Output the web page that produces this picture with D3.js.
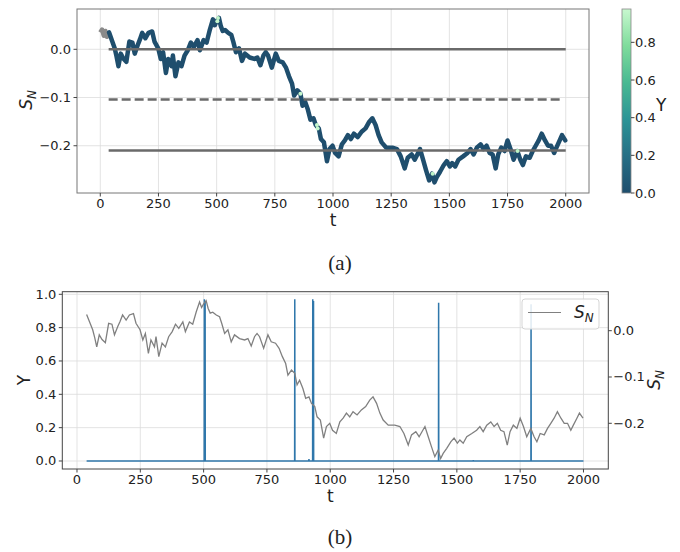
<!DOCTYPE html>
<html>
<head>
<meta charset="utf-8">
<title>S_N and Y</title>
<style>
  body { margin: 0; background: #fff; }
  svg text { font-family: "DejaVu Sans", sans-serif; fill: #222; }
  .cap { font-family: "Liberation Serif", "DejaVu Serif", serif; }
</style>
</head>
<body>
<svg id="chart" width="680" height="552"></svg>
<script src="https://cdn.jsdelivr.net/npm/d3@7"></script>
<script>
// S_N random walk: [t, S_N]
var walkStart = [[0, 0.035], [8, 0.041], [15, 0.028], [22, 0.038], [29, 0.026], [38, 0.035]]; // Y undefined here
var walk = [
  [38, 0.035], [49, 0.020], [62, 0.002], [70, -0.015], [78, -0.035], [88, -0.009], [99, -0.019],
  [112, -0.026], [125, 0.016], [138, 0.014], [148, -0.009], [161, 0.009], [170, 0.020], [180, 0.034],
  [194, 0.023], [207, 0.034], [223, 0.037], [233, 0.016], [249, 0.002], [260, -0.020], [270, -0.006],
  [282, -0.049], [292, -0.020], [306, -0.035], [312, -0.013], [323, -0.056], [336, -0.027], [349, -0.035],
  [362, -0.013], [376, -0.002], [389, 0.014], [402, 0.005], [418, 0.019], [428, -0.002], [444, 0.019],
  [457, 0.014], [471, 0.041], [484, 0.062], [492, 0.050], [500, 0.058], [510, 0.065], [518, 0.048],
  [526, 0.038], [536, 0.040], [550, 0.034], [563, 0.030], [572, 0.015], [583, -0.006], [596, 0.002],
  [609, -0.024], [622, -0.009], [642, -0.017], [662, -0.020], [675, -0.017], [688, -0.033], [701, -0.013],
  [711, -0.006], [721, -0.013], [737, -0.038], [754, -0.009], [767, -0.024], [784, -0.027], [798, -0.038],
  [811, -0.056], [824, -0.071], [833, -0.096], [847, -0.085], [860, -0.092], [869, -0.117], [879, -0.107],
  [892, -0.125], [903, -0.146], [916, -0.143], [926, -0.157], [939, -0.164], [948, -0.186], [961, -0.193],
  [974, -0.232], [985, -0.207], [998, -0.200], [1009, -0.215], [1024, -0.222], [1038, -0.197], [1051, -0.189],
  [1064, -0.178], [1077, -0.186], [1090, -0.175], [1106, -0.182], [1123, -0.171], [1140, -0.164], [1156, -0.150],
  [1169, -0.143], [1183, -0.157], [1196, -0.178], [1209, -0.193], [1229, -0.204], [1255, -0.204], [1275, -0.207],
  [1291, -0.222], [1308, -0.247], [1321, -0.225], [1338, -0.218], [1351, -0.229], [1374, -0.207], [1387, -0.229],
  [1400, -0.251], [1413, -0.272], [1426, -0.258], [1436, -0.276], [1446, -0.265], [1460, -0.254], [1476, -0.240],
  [1489, -0.232], [1502, -0.243], [1512, -0.236], [1525, -0.243], [1539, -0.229], [1559, -0.222], [1578, -0.215],
  [1591, -0.207], [1604, -0.218], [1618, -0.204], [1634, -0.197], [1647, -0.207], [1660, -0.200], [1673, -0.215],
  [1686, -0.218], [1699, -0.247], [1710, -0.218], [1723, -0.204], [1737, -0.211], [1750, -0.189], [1763, -0.207],
  [1776, -0.229], [1792, -0.211], [1805, -0.229], [1816, -0.240], [1829, -0.222], [1845, -0.225], [1858, -0.211],
  [1871, -0.200], [1884, -0.189], [1897, -0.175], [1911, -0.189], [1924, -0.200], [1937, -0.200], [1950, -0.215],
  [1960, -0.204], [1974, -0.189], [1984, -0.178], [1998, -0.189]
];
// Y is 0 except these spikes: [t, Y]
var ySpikes = [[503, 0.97], [506, 0.96], [860, 0.97], [916, 0.012], [931, 0.97], [934, 0.96],
  [1005, 0.004], [1428, 0.95], [1565, 0.006], [1793, 0.94]];
var yStart = 38, yEnd = 2000;
// reference levels in panel (a)
var levels = [0.0, -0.104, -0.21];
var levelStart = 36, levelEnd = [2000, 1985, 2000];

var xTicks = [0, 250, 500, 750, 1000, 1250, 1500, 1750, 2000];
var aYTicks = [0.0, -0.1, -0.2];
var bYTicks = [0.0, 0.2, 0.4, 0.6, 0.8, 1.0];
var bRTicks = [0.0, -0.1, -0.2];
var cbTicks = [0.0, 0.2, 0.4, 0.6, 0.8];
var cbMax = 0.977;
var cmapStops = ["#1f4e6d", "#266f85", "#2c9496", "#49b992", "#7fdc9c", "#c8f8cf"];

var svg = d3.select("#chart");
var fmt1 = function (d) { return d3.format(".1f")(d).replace("-", "\u2212"); };
var color = d3.scaleLinear()
  .domain(cmapStops.map(function (c, i) { return i / (cmapStops.length - 1) * cbMax; }))
  .range(cmapStops);

function nearest(t) {
  var i = d3.bisector(function (d) { return d[0]; }).center(walk, t);
  return walk[i];
}

function addSN(sel, size) {
  sel.append("tspan").attr("font-style", "italic").text("S");
  sel.append("tspan").attr("font-style", "italic").attr("font-size", size * 0.7)
    .attr("dy", size * 0.22).text("N");
}

// grid helpers
function hGrid(g, scale, ticks, x0, x1) {
  g.selectAll(null).data(ticks).enter().append("line")
    .attr("x1", x0).attr("x2", x1)
    .attr("y1", function (d) { return scale(d); }).attr("y2", function (d) { return scale(d); })
    .attr("stroke", "#dcdcdc").attr("stroke-width", 0.8);
}
function vGrid(g, scale, ticks, y0, y1) {
  g.selectAll(null).data(ticks).enter().append("line")
    .attr("y1", y0).attr("y2", y1)
    .attr("x1", function (d) { return scale(d); }).attr("x2", function (d) { return scale(d); })
    .attr("stroke", "#dcdcdc").attr("stroke-width", 0.8);
}

// ---------------- panel (a) ----------------
var ax = { l: 77, r: 589, t: 9, b: 193 };
var xa = d3.scaleLinear().domain([-100, 2100]).range([ax.l, ax.r]);
var ya = d3.scaleLinear().domain([-0.298, 0.0836]).range([ax.b, ax.t]);
var ga = svg.append("g");

vGrid(ga, xa, xTicks, ax.t, ax.b);
hGrid(ga, ya, aYTicks, ax.l, ax.r);

var lineA = d3.line().x(function (d) { return xa(d[0]); }).y(function (d) { return ya(d[1]); });

ga.append("path").datum(walkStart).attr("d", lineA)
  .attr("fill", "none").attr("stroke", "#8a8a8a").attr("stroke-width", 4.5).attr("stroke-linejoin", "round");
ga.append("path").datum(walk).attr("d", lineA)
  .attr("fill", "none").attr("stroke", color(0)).attr("stroke-width", 4.5)
  .attr("stroke-linejoin", "round").attr("stroke-linecap", "round");

ga.selectAll(null).data(levels).enter().append("line")
  .attr("x1", xa(levelStart))
  .attr("x2", function (d, i) { return xa(levelEnd[i]); })
  .attr("y1", function (d) { return ya(d); }).attr("y2", function (d) { return ya(d); })
  .attr("stroke", "#6a6a6a").attr("stroke-width", 2.6)
  .attr("stroke-dasharray", function (d, i) { return i === 1 ? "9,4" : null; });

// points where Y is high
ga.selectAll(null).data(ySpikes.filter(function (d) { return d[1] > 0.5; })).enter().append("circle")
  .attr("cx", function (d) { return xa(d[0]); })
  .attr("cy", function (d) { return ya(nearest(d[0])[1]); })
  .attr("r", 2).attr("fill", function (d) { return color(d[1]); });

ga.append("rect").attr("x", ax.l).attr("y", ax.t).attr("width", ax.r - ax.l).attr("height", ax.b - ax.t)
  .attr("fill", "none").attr("stroke", "#777").attr("stroke-width", 1);

ga.selectAll(null).data(xTicks).enter().append("line")
  .attr("x1", function (d) { return xa(d); }).attr("x2", function (d) { return xa(d); })
  .attr("y1", ax.b).attr("y2", ax.b + 3.5).attr("stroke", "#444");
ga.selectAll(null).data(xTicks).enter().append("text")
  .attr("x", function (d) { return xa(d); }).attr("y", ax.b + 15)
  .attr("text-anchor", "middle").attr("font-size", 13).text(function (d) { return d; });
ga.selectAll(null).data(aYTicks).enter().append("line")
  .attr("x1", ax.l - 3.5).attr("x2", ax.l)
  .attr("y1", function (d) { return ya(d); }).attr("y2", function (d) { return ya(d); }).attr("stroke", "#444");
ga.selectAll(null).data(aYTicks).enter().append("text")
  .attr("x", ax.l - 6).attr("y", function (d) { return ya(d) + 4.5; })
  .attr("text-anchor", "end").attr("font-size", 13).text(fmt1);

ga.append("text").attr("x", xa(1000)).attr("y", 226).attr("text-anchor", "middle")
  .attr("font-size", 17).text("t");
var snA = ga.append("text").attr("transform", "translate(32,100) rotate(-90)")
  .attr("text-anchor", "middle").attr("font-size", 17);
addSN(snA, 17);

// colorbar
var cb = { l: 622, r: 631, t: 9, b: 193 };
var yc = d3.scaleLinear().domain([0, cbMax]).range([cb.b, cb.t]);
var grad = svg.append("defs").append("linearGradient").attr("id", "cbgrad")
  .attr("x1", 0).attr("y1", 1).attr("x2", 0).attr("y2", 0);
grad.selectAll("stop").data(cmapStops).enter().append("stop")
  .attr("offset", function (d, i) { return i / (cmapStops.length - 1); })
  .attr("stop-color", function (d) { return d; });
svg.append("rect").attr("x", cb.l).attr("y", cb.t).attr("width", cb.r - cb.l).attr("height", cb.b - cb.t)
  .attr("fill", "url(#cbgrad)").attr("stroke", "#888").attr("stroke-width", 0.8);
svg.selectAll(null).data(cbTicks).enter().append("line")
  .attr("x1", cb.r).attr("x2", cb.r + 3.5)
  .attr("y1", function (d) { return yc(d); }).attr("y2", function (d) { return yc(d); }).attr("stroke", "#444");
svg.selectAll(null).data(cbTicks).enter().append("text")
  .attr("x", cb.r + 4).attr("y", function (d) { return yc(d) + 4.5; })
  .attr("font-size", 13).text(fmt1);
svg.append("text").attr("x", 656).attr("y", 111).attr("font-size", 17).text("Y");

svg.append("text").attr("class", "cap").attr("x", 340).attr("y", 270)
  .attr("text-anchor", "middle").attr("font-size", 21).text("(a)");

// ---------------- panel (b) ----------------
var bx = { l: 62.3, r: 608.3, t: 291.7, b: 469 };
var xb = d3.scaleLinear().domain([-58, 2098]).range([bx.l, bx.r]);
var yb = d3.scaleLinear().domain([-0.048, 1.0156]).range([bx.b, bx.t]);
var yr = d3.scaleLinear().domain([-0.2987, 0.0842]).range([bx.b, bx.t]);
var gb = svg.append("g");

vGrid(gb, xb, xTicks, bx.t, bx.b);
hGrid(gb, yb, bYTicks, bx.l, bx.r);

var yLine = [[yStart, 0]];
ySpikes.forEach(function (s) {
  yLine.push([s[0] - 0.6, 0], [s[0], s[1]], [s[0] + 0.6, 0]);
});
yLine.push([yEnd, 0]);

gb.append("path").datum(yLine)
  .attr("d", d3.line().x(function (d) { return xb(d[0]); }).y(function (d) { return yb(d[1]); }))
  .attr("fill", "none").attr("stroke", "#2f77ab").attr("stroke-width", 1.5);

gb.append("path").datum(walk)
  .attr("d", d3.line().x(function (d) { return xb(d[0]); }).y(function (d) { return yr(d[1]); }))
  .attr("fill", "none").attr("stroke", "#808080").attr("stroke-width", 1.3);

gb.append("rect").attr("x", bx.l).attr("y", bx.t).attr("width", bx.r - bx.l).attr("height", bx.b - bx.t)
  .attr("fill", "none").attr("stroke", "#444").attr("stroke-width", 1);

gb.selectAll(null).data(xTicks).enter().append("line")
  .attr("x1", function (d) { return xb(d); }).attr("x2", function (d) { return xb(d); })
  .attr("y1", bx.b).attr("y2", bx.b + 3.5).attr("stroke", "#444");
gb.selectAll(null).data(xTicks).enter().append("text")
  .attr("x", function (d) { return xb(d); }).attr("y", bx.b + 15)
  .attr("text-anchor", "middle").attr("font-size", 13).text(function (d) { return d; });
gb.selectAll(null).data(bYTicks).enter().append("line")
  .attr("x1", bx.l - 3.5).attr("x2", bx.l)
  .attr("y1", function (d) { return yb(d); }).attr("y2", function (d) { return yb(d); }).attr("stroke", "#444");
gb.selectAll(null).data(bYTicks).enter().append("text")
  .attr("x", bx.l - 6).attr("y", function (d) { return yb(d) + 4.5; })
  .attr("text-anchor", "end").attr("font-size", 13).text(fmt1);
gb.selectAll(null).data(bRTicks).enter().append("line")
  .attr("x1", bx.r).attr("x2", bx.r + 3.5)
  .attr("y1", function (d) { return yr(d); }).attr("y2", function (d) { return yr(d); }).attr("stroke", "#444");
gb.selectAll(null).data(bRTicks).enter().append("text")
  .attr("x", bx.r + 5).attr("y", function (d) { return yr(d) + 4.5; })
  .attr("font-size", 13).text(fmt1);

gb.append("text").attr("x", xb(1000)).attr("y", 502).attr("text-anchor", "middle")
  .attr("font-size", 17).text("t");
gb.append("text").attr("transform", "translate(30,380) rotate(-90)")
  .attr("text-anchor", "middle").attr("font-size", 17).text("Y");
var snB = gb.append("text").attr("transform", "translate(660,380) rotate(-90)")
  .attr("text-anchor", "middle").attr("font-size", 17);
addSN(snB, 17);

// legend
var lg = gb.append("g").attr("transform", "translate(522,299)");
lg.append("rect").attr("width", 77).attr("height", 30).attr("rx", 3)
  .attr("fill", "#fff").attr("fill-opacity", 0.85).attr("stroke", "#d5d5d5");
lg.append("line").attr("x1", 6).attr("x2", 39).attr("y1", 13.5).attr("y2", 13.5)
  .attr("stroke", "#808080").attr("stroke-width", 1.2);
var lt = lg.append("text").attr("x", 52).attr("y", 19).attr("font-size", 17);
addSN(lt, 17);

svg.append("text").attr("class", "cap").attr("x", 340).attr("y", 544)
  .attr("text-anchor", "middle").attr("font-size", 21).text("(b)");
</script>
</body>
</html>
